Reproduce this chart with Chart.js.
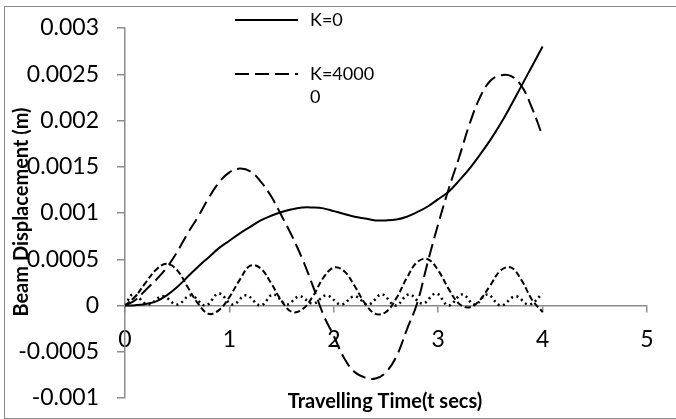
<!DOCTYPE html>
<html>
<head>
<meta charset="utf-8">
<script src="https://cdn.jsdelivr.net/npm/chart.js@4.4.0/dist/chart.umd.min.js"></script>
<style>
body { margin: 0; background: #fff; }
#wrap { position: relative; width: 676px; height: 419px; overflow: hidden; }
#frame { position: absolute; left: 4px; top: 6px; width: 700px; height: 413px; box-sizing: border-box; border: 1px solid #8a8a8a; pointer-events: none; }
</style>
</head>
<body>
<div id="wrap">
  <canvas id="chart" width="676" height="419"></canvas>
  <div id="frame"></div>
</div>
<script>
// time axis (secs)
const time = [0, 0.1, 0.2, 0.3, 0.4, 0.5, 0.6, 0.7, 0.8, 0.9,
              1.0, 1.1, 1.2, 1.3, 1.4, 1.5, 1.6, 1.7, 1.8, 1.9,
              2.0, 2.1, 2.2, 2.3, 2.4, 2.5, 2.6, 2.7, 2.8, 2.9,
              3.0, 3.1, 3.2, 3.3, 3.4, 3.5, 3.6, 3.7, 3.8, 3.9, 4.0];

// K=0
const k0 = [0, 0.000004, 0.000017, 0.000045, 0.00011, 0.0002, 0.00031, 0.00042, 0.00052, 0.00062,
            0.0007, 0.00078, 0.00085, 0.00092, 0.00097, 0.00101, 0.00104, 0.00106, 0.00106, 0.00105,
            0.00102, 0.00099, 0.00096, 0.00094, 0.00092, 0.00092, 0.00093, 0.00096, 0.00101, 0.00107,
            0.00115, 0.00123, 0.00135, 0.00148, 0.00163, 0.00179, 0.00197, 0.00217, 0.00238, 0.00259, 0.0028];

// K=40000
const k40000 = [0, 0.00006, 0.00017, 0.00028, 0.00041, 0.00058, 0.00078, 0.00096, 0.00116, 0.00133,
                0.00144, 0.00148, 0.00145, 0.00134, 0.00118, 0.00097, 0.00075, 0.0005, 0.00021, -0.0001,
                -0.00033, -0.00057, -0.00072, -0.00078, -0.00079, -0.00072, -0.00055, -0.00026, 0.00003, 0.00047,
                0.00088, 0.00126, 0.0016, 0.00196, 0.00225, 0.00243, 0.00249, 0.00248, 0.00237, 0.00213, 0.00183];

// K=400000
const k400000 = [0, 0.0001, 0.00025, 0.00039, 0.00045, 0.00038, 0.0002, 0.00002, -0.00009, -0.00005,
                 0.00009, 0.00028, 0.00043, 0.0004, 0.00024, 0.00005, -0.00007, -0.00004, 0.0001, 0.0003,
                 0.00041, 0.00037, 0.00021, 0.00002, -0.00009, -0.00007, 0.00008, 0.0003, 0.00047, 0.0005,
                 0.00038, 0.00018, 0.00002, -0.00002, 0.00006, 0.00022, 0.00038, 0.00041, 0.00027, 0.00006, -0.00007];

// K=4000000 (own time points)
const timeFine = [0, 0.08, 0.22, 0.36, 0.5, 0.63, 0.77, 0.9, 1.03, 1.16, 1.3, 1.42, 1.55, 1.67, 1.8, 1.93,
                  2.07, 2.2, 2.33, 2.46, 2.59, 2.72, 2.85, 2.98, 3.1, 3.23, 3.35, 3.47, 3.6, 3.74, 3.87, 4.0];
const k4000000 = [0, 0.00012, 0.00001, 0.0001, 0.00001, 0.00011, 0, 0.00013, 0.00001, 0.00011, 0, 0.00012, 0.00001, 0.0001, 0.00002, 0.00011,
                  0.00001, 0.0001, 0.00001, 0.00012, 0, 0.00012, 0.00002, 0.00013, 0, 0.00012, 0.00001, 0.00012, 0, 0.0001, 0.00001, 0.00013];

const yTicks = [-0.001, -0.0005, 0, 0.0005, 0.001, 0.0015, 0.002, 0.0025, 0.003];
const xTicks = [0, 1, 2, 3, 4, 5];

function pairs(xs, ys) {
    return ys.map((y, i) => ({ x: xs[i], y: y }));
}

Chart.defaults.font.family = 'Lato, "Open Sans", sans-serif';
Chart.defaults.color = '#000';

// legend + axis titles drawn the way the spreadsheet places them
const extras = {
    id: 'extras',
    afterDraw(chart) {
        const ctx = chart.ctx;
        ctx.save();
        ctx.strokeStyle = '#000';
        ctx.lineWidth = 2;
        const items = [
            { ds: 0, y: 20, text: ['K=0'] },
            { ds: 1, y: 74, text: ['K=4000', '0'] }
        ];
        items.forEach(it => {
            const ds = chart.data.datasets[it.ds];
            ctx.setLineDash(ds.borderDash || []);
            ctx.beginPath();
            ctx.moveTo(235, it.y);
            ctx.lineTo(298, it.y);
            ctx.stroke();
            ctx.setLineDash([]);
            ctx.fillStyle = '#000';
            ctx.font = '18px Lato, sans-serif';
            ctx.textBaseline = 'middle';
            ctx.textAlign = 'left';
            it.text.forEach((t, j) => ctx.fillText(t, 310, it.y + j * 23));
        });

        ctx.font = 'bold 20px Lato, sans-serif';
        ctx.textAlign = 'center';
        ctx.textBaseline = 'middle';
        ctx.fillText('Travelling Time(t secs)', 385, 402);
        ctx.translate(22, 212);
        ctx.rotate(-Math.PI / 2);
        ctx.fillText('Beam Displacement (m)', 0, 0);
        ctx.restore();
    }
};

const pad = { left: 0, right: 29, top: 28, bottom: 21 };

const chart = new Chart(document.getElementById('chart'), {
    type: 'line',
    data: {
        datasets: [
            { label: 'K=0', data: pairs(time, k0), borderColor: '#000', borderWidth: 2, borderDash: [] },
            { label: 'K=40000', data: pairs(time, k40000), borderColor: '#000', borderWidth: 2, borderDash: [14, 6] },
            { label: 'K=400000', data: pairs(time, k400000), borderColor: '#000', borderWidth: 2, borderDash: [6, 3] },
            { label: 'K=4000000', data: pairs(timeFine, k4000000), borderColor: '#000', borderWidth: 2.5, borderDash: [2, 3.5] }
        ]
    },
    options: {
        responsive: false,
        animation: false,
        elements: { point: { radius: 0 }, line: { tension: 0.4, fill: false } },
        layout: { autoPadding: false, padding: pad },
        plugins: { legend: { display: false }, tooltip: { enabled: false } },
        scales: {
            x: {
                type: 'linear',
                position: { y: 0 },
                min: 0,
                max: 5,
                afterBuildTicks: s => { s.ticks = xTicks.map(v => ({ value: v })); },
                afterFit: s => { s.paddingTop = 0; s.paddingBottom = 0; },
                ticks: { font: { size: 23 }, padding: 14, maxRotation: 0 },
                grid: { drawOnChartArea: false, drawTicks: true, tickLength: 6, color: '#8c8c8c', lineWidth: 1.5 },
                border: { color: '#8c8c8c', width: 1.5 }
            },
            y: {
                position: 'left',
                min: -0.001,
                max: 0.003,
                afterBuildTicks: s => { s.ticks = yTicks.map(v => ({ value: v })); },
                // keep the label overhang from shrinking the plot area
                afterFit: s => { s.width = 125; s.paddingTop = 0; s.paddingBottom = 0; },
                ticks: {
                    font: { size: 23 },
                    padding: 18,
                    callback: v => String(parseFloat(v.toFixed(4)))
                },
                grid: { drawOnChartArea: false, drawTicks: true, tickLength: 8, color: '#8c8c8c', lineWidth: 1.5 },
                border: { color: '#8c8c8c', width: 1.5 }
            }
        }
    },
    plugins: [extras]
});

// nudge the padding until the plot area sits where the spreadsheet had it (top 28, bottom 398)
for (let i = 0; i < 4; i++) {
    const a = chart.chartArea;
    const dTop = 28 - a.top;
    const dBottom = a.bottom - 398;
    if (Math.abs(dTop) < 0.5 && Math.abs(dBottom) < 0.5) break;
    pad.top += dTop;
    pad.bottom += dBottom;
    chart.options.layout.padding = Object.assign({}, pad);
    chart.update();
}
</script>
</body>
</html>
